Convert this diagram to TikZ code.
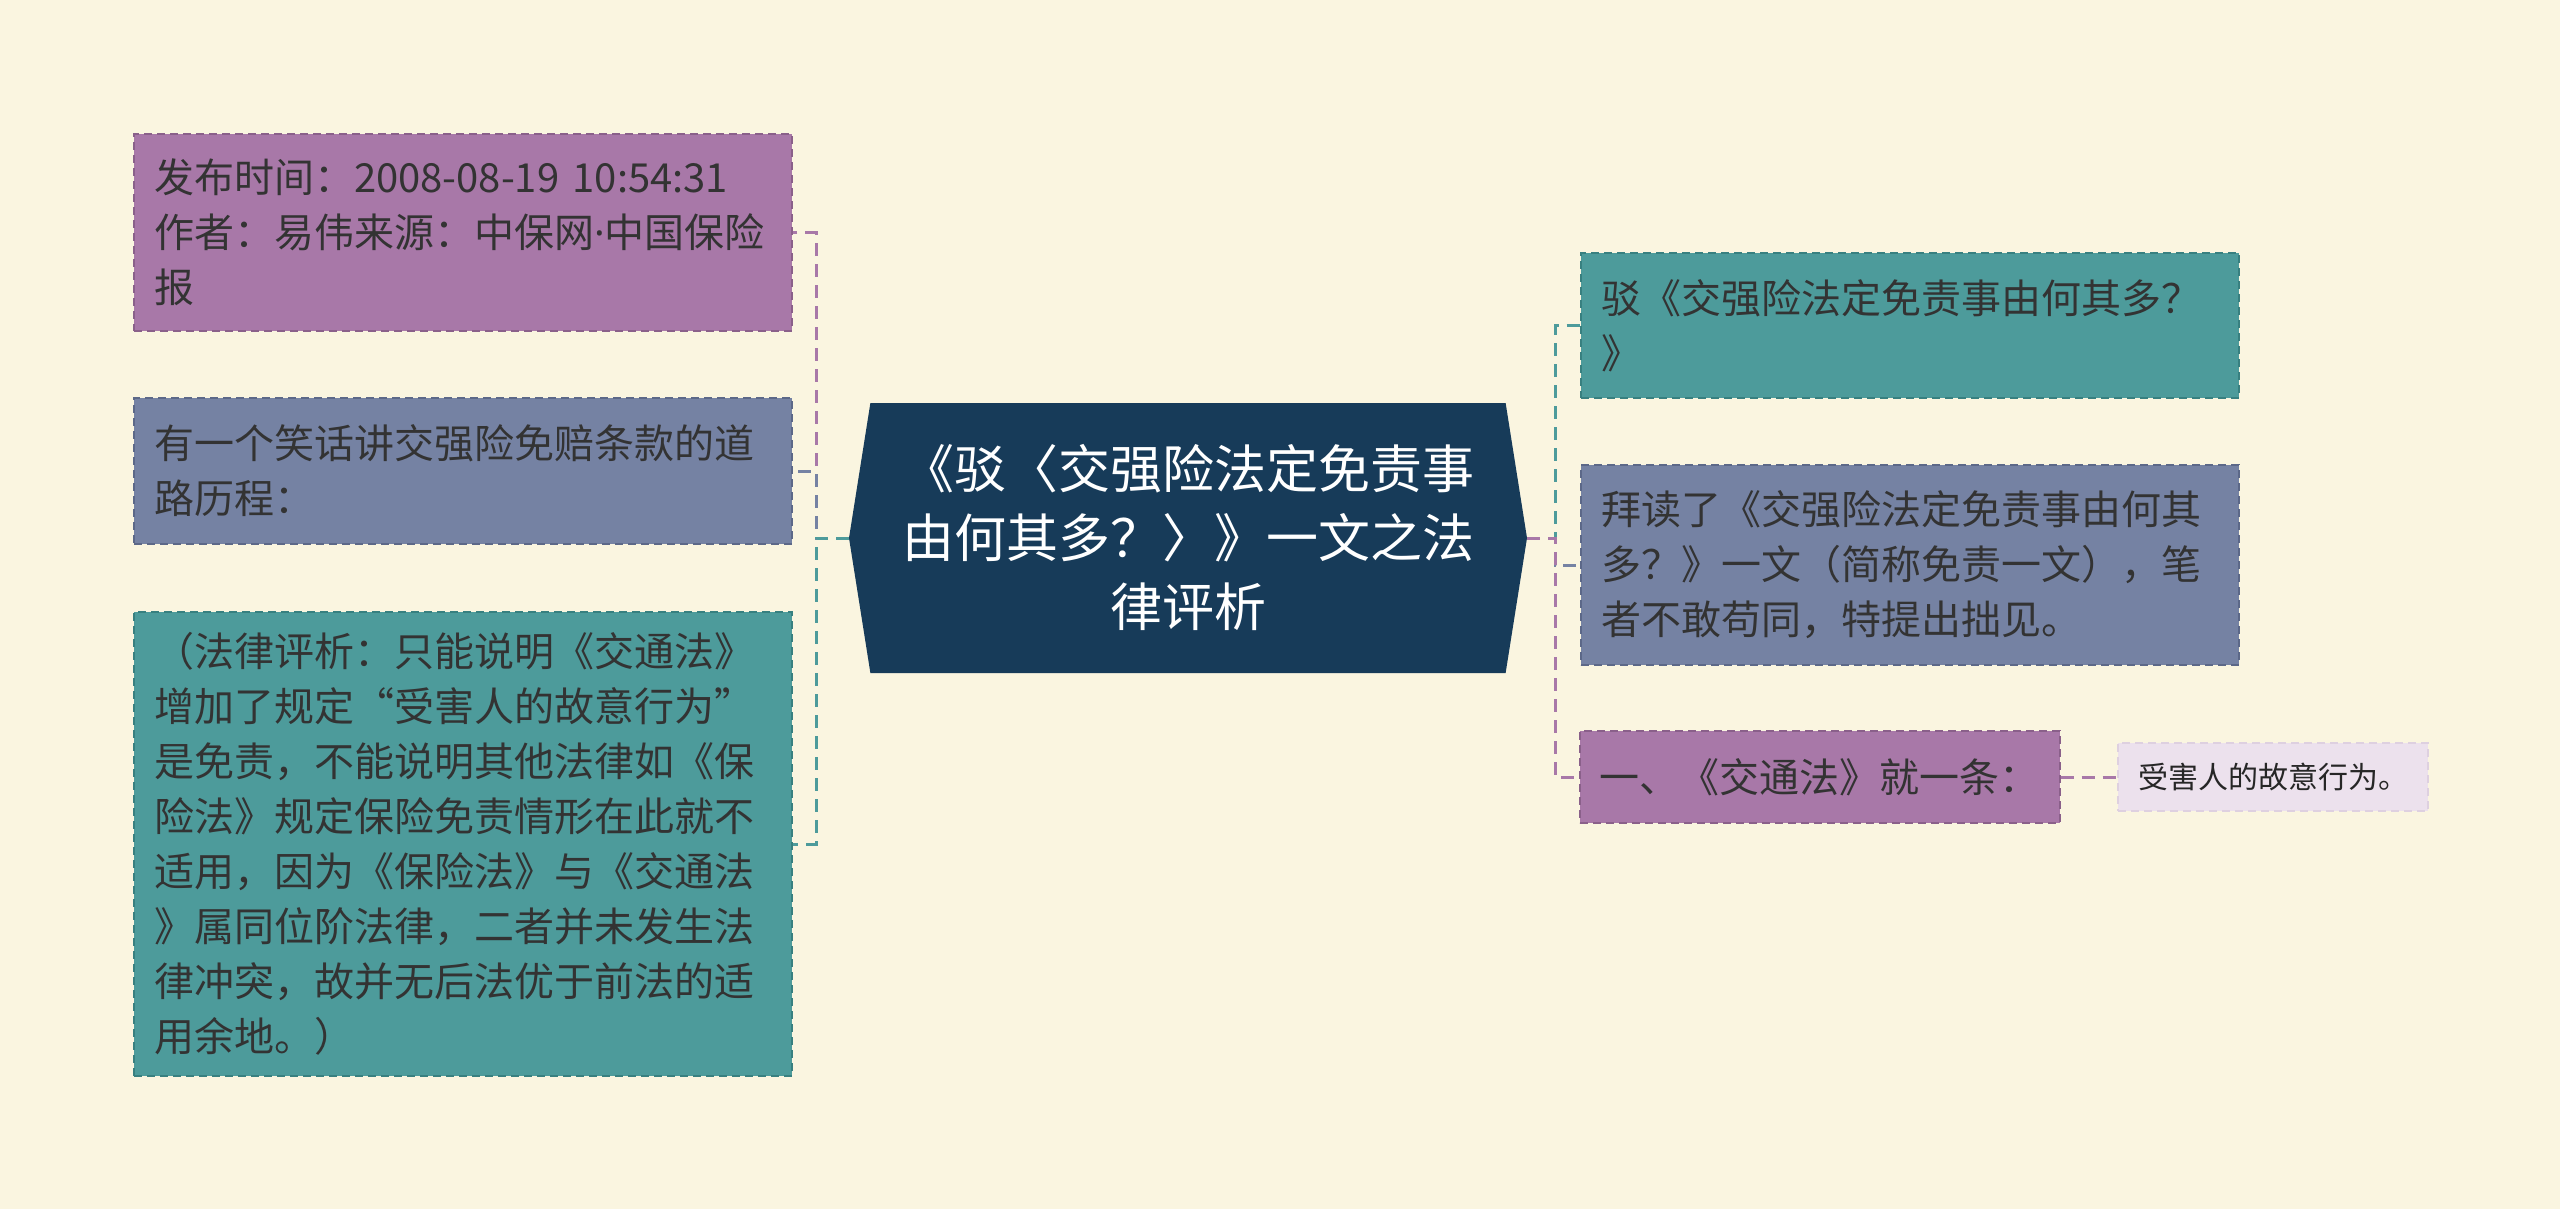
\documentclass[tikz,border=0pt]{standalone}
\usepackage{fontspec}
\setmainfont{Noto Sans CJK SC}
\newfontfamily\latinfont{Noto Sans}
\usetikzlibrary{shapes.symbols}
\definecolor{bgcream}{RGB}{250,245,224}
\definecolor{navy}{RGB}{23,59,89}
\definecolor{mauve}{RGB}{168,120,168}
\definecolor{mauveline}{RGB}{138,96,138}
\definecolor{slate}{RGB}{117,130,163}
\definecolor{slateline}{RGB}{92,104,136}
\definecolor{tealfill}{RGB}{77,155,155}
\definecolor{tealline}{RGB}{56,128,128}
\definecolor{lilac}{RGB}{236,225,237}
\definecolor{lilacline}{RGB}{222,208,224}
\definecolor{txt}{RGB}{51,51,51}
\tikzset{
  blk/.style   = {draw, dash pattern=on 8pt off 5pt, line width=2pt,
                  align=left, text=txt, inner xsep=20pt, inner ysep=0pt,
                  font=\fontsize{40}{55}\selectfont},
  sub/.style   = {blk, text width=618pt},
  leaf/.style  = {blk, fill=lilac, draw=lilacline, text=black!85,
                  inner xsep=16pt, font=\fontsize{30}{40}\selectfont},
  topic/.style = {signal, signal to=east and west, signal pointer angle=162,
                  fill=navy, text=white, align=center, inner sep=0pt,
                  font=\fontsize{52}{69}\selectfont},
  ed/.style    = {line width=3pt, dash pattern=on 13pt off 8pt},
}

\begin{document}
\begin{tikzpicture}[x=1pt, y=-1pt]
\useasboundingbox (0,0) rectangle (2560,1209);
\fill[bgcream] (0,0) rectangle (2560,1209);

% --- central topic ---
\node[topic, minimum width=678pt, minimum height=270pt] (ctr) at (1188,538)
     {《驳〈交强险法定免责事\\由何其多？〉》一文之法\\律评析};

% --- left branch ---
\node[sub, fill=mauve, draw=mauveline, minimum height=197pt] (info) at (463,232.5)
     {发布时间：2008-08-19 10:54:31\\作者：易伟来源：中保网{\latinfont ·}中国保险\\报};
\node[sub, fill=slate, draw=slateline, minimum height=146pt] (joke) at (463,471)
     {有一个笑话讲交强险免赔条款的道\\路历程：};
\node[sub, fill=tealfill, draw=tealline, minimum height=464pt] (note) at (463,844)
     {（法律评析：只能说明《交通法》\\增加了规定“受害人的故意行为”\\是免责，不能说明其他法律如《保\\险法》规定保险免责情形在此就不\\适用，因为《保险法》与《交通法\\》属同位阶法律，二者并未发生法\\律冲突，故并无后法优于前法的适\\用余地。）};

% --- right branch ---
\node[sub, fill=tealfill, draw=tealline, minimum height=145pt] (rebut) at (1910,325.5)
     {驳《交强险法定免责事由何其多？\\》};
\node[sub, fill=slate, draw=slateline, minimum height=200pt] (read) at (1910,565)
     {拜读了《交强险法定免责事由何其\\多？》一文（简称免责一文），笔\\者不敢苟同，特提出拙见。};
\node[blk, fill=mauve, draw=mauveline, minimum width=479pt, minimum height=92pt] (first) at (1819.5,777)
     {一、《交通法》就一条：};
\node[leaf, minimum width=310pt, minimum height=68pt] (victim) at (2273,777)
     {受害人的故意行为。};

\coordinate (lhub) at (816,538);
\coordinate (rhub) at (1555,538);

\draw[ed, mauve] (ctr.west) -- (lhub) |- (info.east);
\draw[ed, slate] (ctr.west) -- (lhub) |- (joke.east);
\draw[ed, tealfill] (ctr.west) -- (lhub) |- (note.east);

\draw[ed, tealfill] (ctr.east) -- (rhub) |- (rebut.west);
\draw[ed, slate] (ctr.east) -- (rhub) |- (read.west);
\draw[ed, mauve] (ctr.east) -- (rhub) |- (first.west);
\draw[ed, mauve] (first.east) -- (victim.west);
\end{tikzpicture}
\end{document}
